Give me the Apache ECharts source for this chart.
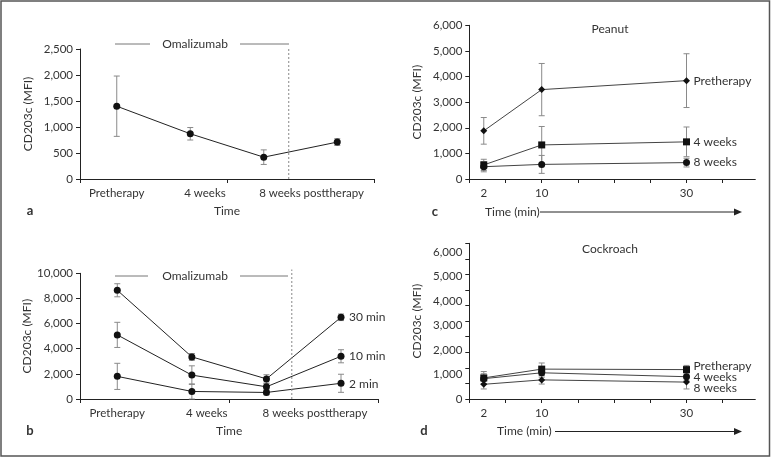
<!DOCTYPE html>
<html>
<head>
<meta charset="utf-8">
<script src="https://cdn.jsdelivr.net/npm/echarts@6/dist/echarts.min.js"></script>
<style>
html,body{margin:0;padding:0;background:#fff;}
#chart{width:774px;height:458px;}
</style>
</head>
<body>
<div id="chart"></div>
<script>
// ---------- data ----------
const categories = ['Pretherapy', '4 weeks', '8 weeks', 'posttherapy'];
const categoryTickLabels = ['Pretherapy', '4 weeks', '8 weeks posttherapy'];

// panel a
const aMean = [1400, 870, 420, 710];
const aErr = [580, 120, 140, 65];

// panel b
const bNames = ['30 min', '10 min', '2 min'];
const b30 = [8650, 3350, 1600, 6500];
const b30Err = [520, 270, 330, 260];
const b10 = [5100, 1900, 970, 3400];
const b10Err = [1000, 740, 250, 520];
const b2 = [1800, 600, 520, 1250];
const b2Err = [1040, 600, 180, 720];

// omalizumab end (between 8 weeks and posttherapy, in category units)
const therapyEnd = 2.84;

// panels c and d
const minutes = [2, 10, 30];
const minuteTickLabels = [2, 10, 30];
const cdNames = ['Pretherapy', '4 weeks', '8 weeks'];
const cPre = [1880, 3490, 3840];
const cPreErr = [520, 1020, 1050];
const c4w = [550, 1330, 1450];
const c4wErr = [220, 720, 580];
const c8w = [480, 570, 640];
const c8wErr = [200, 350, 170];

const dPre = [860, 1220, 1200];
const dPreErr = [260, 250, 170];
const d4w = [830, 1070, 910];
const d4wErr = [200, 180, 170];
const d8w = [600, 780, 690];
const d8wErr = [190, 170, 280];

const cdLabelTicks = [0, 1000, 2000, 3000, 4000, 5000, 6000];
const dMinorTickStep = 635.5;

// ---------- layout ----------
const catLabelPos = [0.5, 1.7, 3.15];   // where the time labels sit, in band units

// ---------- helpers ----------
const FONT = 'Lato, "Open Sans", sans-serif';
const FS = 11.5;
const TXT = '#333';
const AX = '#222';
const ERRC = '#8a8a8a';

function commas(v) { return String(v).replace(/\B(?=(\d{3})+(?!\d))/g, ','); }

function errRender(params, api) {
  const x = api.value(0), y = api.value(1), e = api.value(2);
  const hi = api.coord([x, y + e]);
  const lo = api.coord([x, Math.max(0, y - e)]);
  const w = 3;
  const st = { stroke: ERRC, lineWidth: 1 };
  return {
    type: 'group',
    children: [
      { type: 'line', shape: { x1: hi[0], y1: hi[1], x2: lo[0], y2: lo[1] }, style: st },
      { type: 'line', shape: { x1: hi[0] - w, y1: hi[1], x2: hi[0] + w, y2: hi[1] }, style: st },
      { type: 'line', shape: { x1: lo[0] - w, y1: lo[1], x2: lo[0] + w, y2: lo[1] }, style: st }
    ]
  };
}

function errSeries(xs, ys, es, xi, yi) {
  return {
    type: 'custom', xAxisIndex: xi, yAxisIndex: yi, z: 1, silent: true,
    renderItem: errRender,
    encode: { x: 0, y: 1 },
    data: ys.map((v, i) => [xs[i], v, es[i]])
  };
}

function lineSeries(name, xs, ys, xi, yi, symbol, size, labelOpt, lineColor) {
  return {
    name: name, type: 'line', xAxisIndex: xi, yAxisIndex: yi, z: 3,
    symbol: symbol, symbolSize: size, showSymbol: true, animation: false,
    lineStyle: { color: lineColor || AX, width: 1 },
    itemStyle: { color: '#111' },
    endLabel: labelOpt ? Object.assign({
      show: true, formatter: name, color: TXT, fontFamily: FONT, fontSize: 12, distance: 6
    }, labelOpt) : { show: false },
    data: ys.map((v, i) => [xs[i], v])
  };
}

const idx = categories.map((c, i) => i);

function catXAxis(gi) {
  return {
    type: 'category', gridIndex: gi, data: categories, boundaryGap: true,
    axisLine: { lineStyle: { color: AX, width: 1 } },
    axisTick: { show: true, length: 4, lineStyle: { color: AX } },
    axisLabel: { show: false },
    name: 'Time', nameLocation: 'middle', nameGap: 26,
    nameTextStyle: { color: TXT, fontFamily: FONT, fontSize: 12 },
    splitLine: { show: false }
  };
}
function labelX(gi) {
  return {
    type: 'value', gridIndex: gi, min: 0, max: 4, position: 'bottom',
    axisLine: { show: false }, axisTick: { show: false }, splitLine: { show: false },
    axisLabel: {
      show: true, color: TXT, fontFamily: FONT, fontSize: FS, margin: 8,
      customValues: catLabelPos,
      formatter: v => {
        const k = catLabelPos.findIndex(p => Math.abs(p - v) < 1e-6);
        return k >= 0 ? categoryTickLabels[k] : '';
      }
    }
  };
}
function valY(gi, max, interval) {
  return {
    type: 'value', gridIndex: gi, min: 0, max: max, interval: interval,
    axisLine: { show: true, lineStyle: { color: AX, width: 1 } },
    axisTick: { show: true, length: 4, lineStyle: { color: AX } },
    axisLabel: { color: TXT, fontFamily: FONT, fontSize: FS, margin: 7, formatter: v => commas(v) },
    splitLine: { show: false },
    name: 'CD203c (MFI)', nameLocation: 'middle', nameGap: 46,
    nameTextStyle: { color: TXT, fontFamily: FONT, fontSize: 12 }
  };
}
function minX(gi) {
  return {
    type: 'value', gridIndex: gi, min: 0, max: 39.5,
    axisLine: { show: true, onZero: false, lineStyle: { color: AX, width: 1 } },
    axisTick: { show: true, length: 4, lineStyle: { color: AX }, customValues: [0, 5, 10, 15, 20, 25, 30, 35] },
    axisLabel: { color: TXT, fontFamily: FONT, fontSize: FS, margin: 8, customValues: minuteTickLabels },
    splitLine: { show: false }
  };
}

const dTickVals = [];
for (let k = 0; k <= 10; k++) dTickVals.push(+(k * dMinorTickStep).toFixed(1));

const chart = echarts.init(document.getElementById('chart'), null, { renderer: 'canvas' });

const textStyle = (x, y, text, align, font) => ({
  type: 'text', x: x, y: y, silent: true,
  style: { text: text, fill: TXT, font: font || ('12px ' + FONT), align: align || 'center', verticalAlign: 'middle' }
});

const option = {
  animation: false,
  backgroundColor: '#fff',
  grid: [
    { left: 80, top: 49, width: 294, height: 130 },
    { left: 80, top: 273.3, width: 298.3, height: 125.7 },
    { left: 469.3, top: 25.3, width: 286, height: 153.7 },
    { left: 469.3, top: 243.3, width: 286, height: 155.7 }
  ],
  xAxis: [
    catXAxis(0), labelX(0),
    catXAxis(1), labelX(1),
    minX(2), minX(3)
  ],
  yAxis: [
    valY(0, 2500, 500),
    valY(1, 10000, 2000),
    valY(2, 6000, 1000),
    Object.assign(valY(3, dTickVals[10], null), {
      interval: null,
      axisTick: { show: true, length: 4, lineStyle: { color: AX }, customValues: dTickVals },
      axisLabel: { color: TXT, fontFamily: FONT, fontSize: FS, margin: 7, customValues: cdLabelTicks, formatter: v => commas(v) }
    })
  ],
  series: [
    // panel a
    errSeries(idx, aMean, aErr, 0, 0),
    lineSeries('a', idx, aMean, 0, 0, 'circle', 7, null),
    { type: 'line', xAxisIndex: 1, yAxisIndex: 0, symbol: 'none', clip: false, silent: true,
      lineStyle: { color: '#888', width: 1, type: [2, 2] },
      data: [[therapyEnd, 0], [therapyEnd, 2500]] },
    // panel b
    errSeries(idx, b30, b30Err, 2, 1),
    errSeries(idx, b10, b10Err, 2, 1),
    errSeries(idx, b2, b2Err, 2, 1),
    lineSeries(bNames[0], idx, b30, 2, 1, 'circle', 7, { offset: [2, 0] }),
    lineSeries(bNames[1], idx, b10, 2, 1, 'circle', 7, { offset: [2, 0] }),
    lineSeries(bNames[2], idx, b2, 2, 1, 'circle', 7, { offset: [2, 1] }),
    { type: 'line', xAxisIndex: 3, yAxisIndex: 1, symbol: 'none', clip: false, silent: true,
      lineStyle: { color: '#888', width: 1, type: [2, 2] },
      data: [[therapyEnd, 0], [therapyEnd, 10300]] },
    // panel c
    errSeries(minutes, cPre, cPreErr, 4, 2),
    errSeries(minutes, c4w, c4wErr, 4, 2),
    errSeries(minutes, c8w, c8wErr, 4, 2),
    lineSeries(cdNames[0], minutes, cPre, 4, 2, 'diamond', 7, { offset: [1, 0] }, '#444'),
    lineSeries(cdNames[1], minutes, c4w, 4, 2, 'rect', 7, { offset: [1, 0] }, '#444'),
    lineSeries(cdNames[2], minutes, c8w, 4, 2, 'circle', 7, { offset: [1, 0] }, '#444'),
    // panel d
    errSeries(minutes, dPre, dPreErr, 5, 3),
    errSeries(minutes, d4w, d4wErr, 5, 3),
    errSeries(minutes, d8w, d8wErr, 5, 3),
    lineSeries(cdNames[0], minutes, dPre, 5, 3, 'rect', 7, { offset: [1, -3] }, '#444'),
    lineSeries(cdNames[1], minutes, d4w, 5, 3, 'circle', 7, { offset: [1, 0] }, '#444'),
    lineSeries(cdNames[2], minutes, d8w, 5, 3, 'diamond', 7, { offset: [1, 6] }, '#444')
  ],
  graphic: [
    // frame
    { type: 'rect', silent: true, shape: { x: 1, y: 1, width: 768.5, height: 455 }, style: { fill: 'none', stroke: '#555', lineWidth: 1.5 } },
    // Omalizumab a
    { type: 'line', silent: true, shape: { x1: 115, y1: 44, x2: 150, y2: 44 }, style: { stroke: '#777', lineWidth: 1 } },
    { type: 'line', silent: true, shape: { x1: 240, y1: 44, x2: 289, y2: 44 }, style: { stroke: '#777', lineWidth: 1 } },
    textStyle(195, 44, 'Omalizumab'),
    // Omalizumab b
    { type: 'line', silent: true, shape: { x1: 115, y1: 276, x2: 148, y2: 276 }, style: { stroke: '#777', lineWidth: 1 } },
    { type: 'line', silent: true, shape: { x1: 240, y1: 276, x2: 288, y2: 276 }, style: { stroke: '#777', lineWidth: 1 } },
    textStyle(195, 276, 'Omalizumab'),
    // titles c/d
    textStyle(610, 29, 'Peanut'),
    textStyle(610, 249, 'Cockroach'),
    // Time (min) arrows
    textStyle(485, 212, 'Time (min)', 'left'),
    { type: 'line', silent: true, shape: { x1: 540, y1: 212, x2: 735, y2: 212 }, style: { stroke: '#222', lineWidth: 1 } },
    { type: 'polygon', silent: true, shape: { points: [[734, 208.5], [742, 212], [734, 215.5]] }, style: { fill: '#222' } },
    textStyle(497, 431.5, 'Time (min)', 'left'),
    { type: 'line', silent: true, shape: { x1: 555, y1: 431.5, x2: 735, y2: 431.5 }, style: { stroke: '#222', lineWidth: 1 } },
    { type: 'polygon', silent: true, shape: { points: [[734, 428], [742, 431.5], [734, 435]] }, style: { fill: '#222' } },
    // panel letters
    textStyle(30, 211, 'a', 'center', 'bold 13px ' + FONT),
    textStyle(30, 431, 'b', 'center', 'bold 13px ' + FONT),
    textStyle(435, 212, 'c', 'center', 'bold 13px ' + FONT),
    textStyle(424, 431, 'd', 'center', 'bold 13px ' + FONT)
  ]
};
chart.setOption(option);
</script>
</body>
</html>
